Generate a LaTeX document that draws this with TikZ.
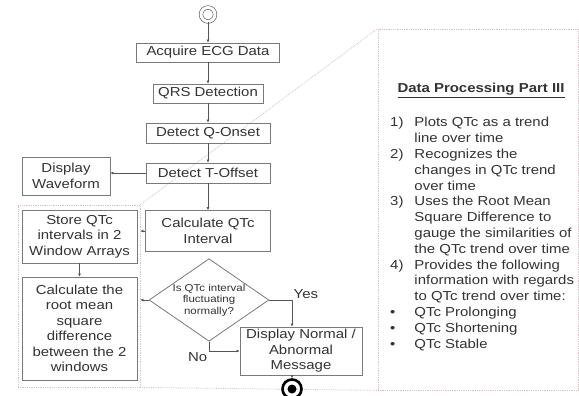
\documentclass[tikz,border=0pt]{standalone}
\usepackage{fontspec}
\setmainfont[FakeStretch=1.15]{Liberation Sans}
\usetikzlibrary{shapes.geometric,arrows.meta}
\definecolor{inkgray}{HTML}{333333}
\definecolor{boxgray}{HTML}{7A7A7A}
\definecolor{wiregray}{HTML}{555555}
\definecolor{calloutpink}{HTML}{D6C2C6}
\tikzset{
  stepbox/.style={draw=boxgray, line width=0.8pt, align=center, inner sep=1pt, text=inkgray, font=\fontsize{13}{15.5}\selectfont},
  decision/.style={diamond, draw=boxgray, line width=0.8pt, align=center, inner sep=0pt, aspect=1.45, text=inkgray, font=\fontsize{10}{11.5}\selectfont},
  groupbox/.style={draw=calloutpink, densely dotted, line width=0.8pt, inner sep=0pt},
  callout/.style={draw=calloutpink, densely dotted, line width=0.8pt},
  flow/.style={draw=wiregray, line width=0.7pt, -{Latex[length=3pt,width=3pt]}},
  tag/.style={text=inkgray, font=\fontsize{13}{15.5}\selectfont, inner sep=1.5pt}
}
\begin{document}
\begin{tikzpicture}[x=1pt,y=-1pt]
\path[fill=white, use as bounding box] (0,0) rectangle (579,396);

\node[groupbox, minimum width=122pt, minimum height=182pt] (group) at (79,296) {};
\node[groupbox, minimum width=200pt, minimum height=361pt] (panel) at (478,209.5) {};
\draw[callout] (group.north east) -- (panel.north west);
\draw[callout] (group.south east) -- (panel.south west);

\node[circle, draw=wiregray, line width=0.6pt, minimum size=14pt, inner sep=0pt, double, double distance=3pt] (start) at (208,14.5) {};
\node[stepbox, minimum width=143pt, minimum height=19pt] (acquire) at (208,52.5) {Acquire ECG Data};
\node[stepbox, minimum width=110pt, minimum height=19pt] (qrs) at (208,93.5) {QRS Detection};
\node[stepbox, minimum width=124pt, minimum height=20pt] (qonset) at (208,133) {Detect Q-Onset};
\node[stepbox, minimum width=124pt, minimum height=20pt] (toffset) at (208,173) {Detect T-Offset};
\node[stepbox, minimum width=88pt, minimum height=38pt] (waveform) at (66,176) {Display\\Waveform};
\node[stepbox, minimum width=125pt, minimum height=41pt] (calcqtc) at (208,231) {Calculate QTc\\Interval};
\node[stepbox, minimum width=115pt, minimum height=53pt] (store) at (79.5,236.5) {Store QTc\\intervals in 2\\Window Arrays};
\node[stepbox, minimum width=115pt, minimum height=103pt] (rms) at (79.5,328.5) {Calculate the\\root mean\\square\\difference\\between the 2\\windows};
\node[decision, minimum width=112pt, minimum height=78pt] (decide) at (209,300) {Is QTc interval\\fluctuating\\normally?};
\node[stepbox, minimum width=122pt, minimum height=48pt] (display) at (301,351) {Display Normal /\\Abnormal\\Message};
\node[circle, draw=black, line width=2.6pt, minimum size=19pt, inner sep=0pt,
  path picture={\fill[black] (path picture bounding box.center) circle (4.5pt);}] (stop) at (292,389) {};

\draw[flow] (start) -- (acquire);
\draw[flow] (acquire) -- (qrs);
\draw[flow] (qrs) -- (qonset);
\draw[flow] (qonset) -- (toffset);
\draw[flow] (toffset.west) -- (toffset.west -| waveform.east);
\draw[flow] (toffset) -- (calcqtc);
\draw[flow] (calcqtc.west) -- (calcqtc.west -| group.east);
\draw[flow] (store) -- (rms);
\draw[flow] (decide.west) -- (decide.west -| group.east);
\draw[flow] (decide.east) -| coordinate (yescorner) ([xshift=-9pt]display.north);
\node[tag, anchor=south west] (yes) at (yescorner) {Yes};
\draw[flow] (decide.south) |- coordinate (nocorner) (display.west);
\node[tag, anchor=north east] (no) at (nocorner) {No};
\draw[flow] (display.south -| stop) -- (stop);

\node[anchor=base, inner sep=0pt, text=inkgray, font=\bfseries\fontsize{13}{15.8}\selectfont] (title) at (481,93) {\underline{Data Processing Part III}};
\node[anchor=base west, inner sep=0pt, text=inkgray, font=\fontsize{13}{15.8}\selectfont] (notes) at (390,127) {%
\begin{tabular}[t]{@{}l@{\hspace{11pt}}l@{}}
1) & Plots QTc as a trend\\
   & line over time\\
2) & Recognizes the\\
   & changes in QTc trend\\
   & over time\\
3) & Uses the Root Mean\\
   & Square Difference to\\
   & gauge the similarities of\\
   & the QTc trend over time\\
4) & Provides the following\\
   & information with regards\\
   & to QTc trend over time:\\
\textbullet & QTc Prolonging\\
\textbullet & QTc Shortening\\
\textbullet & QTc Stable
\end{tabular}};
\end{tikzpicture}
\end{document}
